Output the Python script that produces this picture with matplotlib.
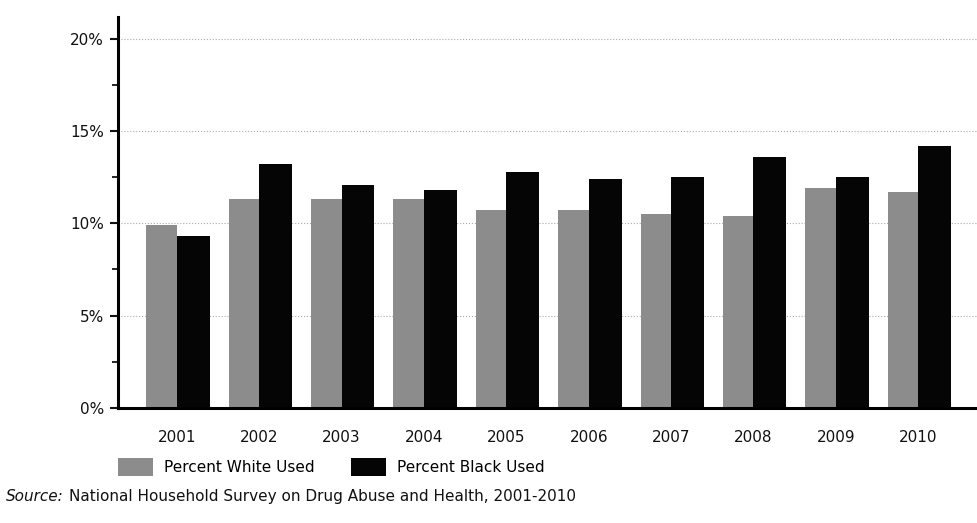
import numpy as np
import matplotlib
matplotlib.use("Agg")
import matplotlib.pyplot as plt
from matplotlib.patches import Patch
from matplotlib.ticker import MultipleLocator, FuncFormatter

# values (percent)
years = ['2001', '2002', '2003', '2004', '2005', '2006', '2007', '2008', '2009', '2010']
white_used = [9.9, 11.3, 11.3, 11.3, 10.7, 10.7, 10.5, 10.4, 11.9, 11.7]
black_used = [9.3, 13.2, 12.1, 11.8, 12.8, 12.4, 12.5, 13.6, 12.5, 14.2]

white_col = '#8c8c8c'
black_col = '#050505'

fig = plt.figure(figsize=(9.78, 5.23), dpi=100)
ax = fig.add_axes([0.1204, 0.2205, 0.8796, 0.747])

x = np.arange(len(years))
# white bar ends at the year position, black bar starts there
ax.bar(x - 0.37, white_used, width=0.37, align='edge', color=white_col, edgecolor='none')
ax.bar(x, black_used, width=0.40, align='edge', color=black_col, edgecolor='none')

ax.set_xlim(-0.716, 9.725)
ax.set_ylim(0, 21.2)

# spines
for s in ['top', 'right']:
    ax.spines[s].set_visible(False)
ax.spines['left'].set_linewidth(2.2)
ax.spines['bottom'].set_linewidth(2.2)

ax.yaxis.set_major_locator(MultipleLocator(5))
ax.yaxis.set_minor_locator(MultipleLocator(2.5))
ax.yaxis.set_major_formatter(FuncFormatter(lambda v, p: '{:.0f}%'.format(v)))
ax.tick_params(axis='y', which='major', length=6, width=1.5, labelsize=11, pad=4, colors='#111111')
ax.tick_params(axis='y', which='minor', length=4, width=1.2)
ax.set_xticks(x)
ax.set_xticklabels(years)
ax.tick_params(axis='x', length=0, labelsize=11, pad=16, colors='#111111')

ax.grid(axis='y', which='major', color='#aaaaaa', linestyle=':', linewidth=0.8)
ax.set_axisbelow(True)

# legend
handles = [Patch(facecolor=white_col, edgecolor='none', label='Percent White Used'),
           Patch(facecolor=black_col, edgecolor='none', label='Percent Black Used')]
fig.legend(handles=handles, loc='center left', bbox_to_anchor=(0.1207, 0.107),
           ncol=2, frameon=False, fontsize=11, handlelength=2.3, handleheight=1.4,
           handletextpad=0.7, columnspacing=2.4, borderpad=0, borderaxespad=0)

# source line
t1 = fig.text(0.006, 0.05, 'Source:', fontsize=11, style='italic', va='center', color='#111111')
fig.canvas.draw()
bb = t1.get_window_extent().transformed(fig.transFigure.inverted())
fig.text(bb.x1 + 0.005, 0.05, 'National Household Survey on Drug Abuse and Health, 2001-2010',
         fontsize=11, va='center', color='#111111')

fig.savefig('out.png', dpi=100)
